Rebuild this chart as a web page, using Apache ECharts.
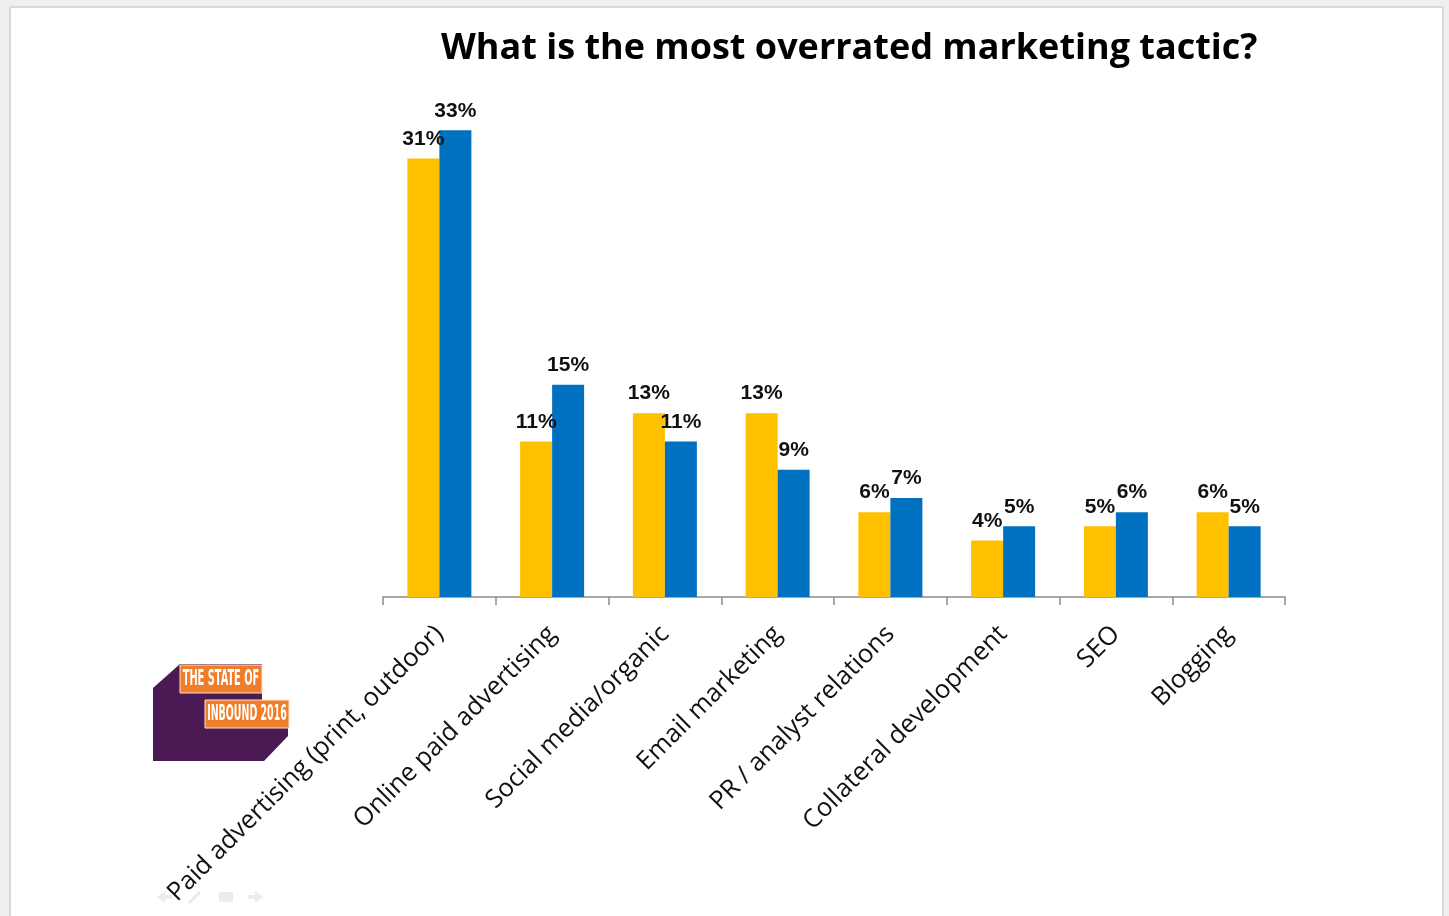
<!DOCTYPE html>
<html>
<head>
<meta charset="utf-8">
<script src="https://cdn.jsdelivr.net/npm/echarts@6/dist/echarts.min.js"></script>
<style>
  html, body { margin: 0; padding: 0; background: #efefef; }
  #chart { width: 1449px; height: 916px; }
</style>
</head>
<body>
<div id="chart"></div>
<script>
// Survey answers: share of respondents naming each tactic as most overrated
const categories = [
  'Paid advertising (print, outdoor)',
  'Online paid advertising',
  'Social media/organic',
  'Email marketing',
  'PR / analyst relations',
  'Collateral development',
  'SEO',
  'Blogging'
];
const seriesA = [31, 11, 13, 13, 6, 4, 5, 6];   // yellow bars
const seriesB = [33, 15, 11, 9, 7, 5, 6, 5];    // blue bars
const titleText = 'What is the most overrated marketing tactic?';

const chart = echarts.init(document.getElementById('chart'));

const labelStyle = {
  show: true,
  position: 'top',
  distance: 9,
  formatter: '{c}%',
  color: '#111',
  fontFamily: 'Liberation Sans, Arial, sans-serif',
  fontWeight: 'bold',
  fontSize: 21
};

chart.setOption({
  backgroundColor: '#efefef',
  animation: false,
  title: {
    text: titleText,
    left: 436,
    top: 26,
    textStyle: {
      fontFamily: 'Open Sans, sans-serif',
      fontWeight: 'bold',
      fontSize: 36,
      color: '#000'
    }
  },
  graphic: [
    // white slide panel
    {
      type: 'rect', z: -10, silent: true,
      shape: { x: 10, y: 7, width: 1433, height: 920 },
      style: { fill: '#ffffff', stroke: '#d9d9d9', lineWidth: 2 }
    },
    // logo: purple block
    {
      type: 'polygon', z: 5,
      shape: { points: [[153, 688], [180, 664], [262, 664], [262, 700], [288, 700], [288, 736], [264, 761], [153, 761]] },
      style: { fill: '#4b1a55' }
    },
    // logo: orange text boxes
    {
      type: 'rect', z: 6,
      shape: { x: 180, y: 665, width: 82, height: 28 },
      style: { fill: '#f07d2a', stroke: '#fbe3cf', lineWidth: 1 }
    },
    {
      type: 'rect', z: 6,
      shape: { x: 205, y: 700, width: 84, height: 28 },
      style: { fill: '#f07d2a', stroke: '#fbe3cf', lineWidth: 1 }
    },
    {
      type: 'text', z: 7, x: 221, y: 680, scaleX: 0.52,
      style: {
        text: 'THE STATE OF', fill: '#fff', fontSize: 21, fontWeight: 'bold',
        fontFamily: 'DejaVu Sans Condensed, sans-serif', align: 'center', verticalAlign: 'middle'
      }
    },
    {
      type: 'text', z: 7, x: 247, y: 715, scaleX: 0.5,
      style: {
        text: 'INBOUND 2016', fill: '#fff', fontSize: 21, fontWeight: 'bold',
        fontFamily: 'DejaVu Sans Condensed, sans-serif', align: 'center', verticalAlign: 'middle'
      }
    },
    // faint slide navigation controls
    {
      type: 'group', z: 1, silent: true,
      children: [
        { type: 'polygon', shape: { points: [[157, 897], [165, 891], [165, 895], [172, 895], [172, 899], [165, 899], [165, 903]] }, style: { fill: '#ececec' } },
        { type: 'line', shape: { x1: 189, y1: 903, x2: 200, y2: 892 }, style: { stroke: '#eaeaea', lineWidth: 3 } },
        { type: 'rect', shape: { x: 219, y: 892, width: 14, height: 10 }, style: { fill: '#ececec' } },
        { type: 'polygon', shape: { points: [[263, 897], [255, 891], [255, 895], [248, 895], [248, 899], [255, 899], [255, 903]] }, style: { fill: '#ececec' } }
      ]
    }
  ],
  grid: { left: 383, right: 164, top: 102, bottom: 319, containLabel: false },
  xAxis: {
    type: 'category',
    data: categories,
    axisLine: { lineStyle: { color: '#8c8c8c', width: 1.5 } },
    axisTick: { show: true, length: 8, lineStyle: { color: '#8c8c8c', width: 1.5 } },
    axisLabel: {
      rotate: 45,
      interval: 0,
      margin: 33,
      color: '#111',
      fontFamily: 'Open Sans, sans-serif',
      fontSize: 25.5
    }
  },
  yAxis: {
    type: 'value',
    min: 0,
    max: 35,
    show: false,
    splitLine: { show: false }
  },
  series: [
    {
      type: 'bar',
      data: seriesA,
      barWidth: 32,
      barGap: '0%',
      itemStyle: { color: '#ffc000' },
      label: labelStyle
    },
    {
      type: 'bar',
      data: seriesB,
      barWidth: 32,
      barGap: '0%',
      itemStyle: { color: '#0070c0' },
      label: labelStyle
    }
  ]
});
</script>
</body>
</html>
